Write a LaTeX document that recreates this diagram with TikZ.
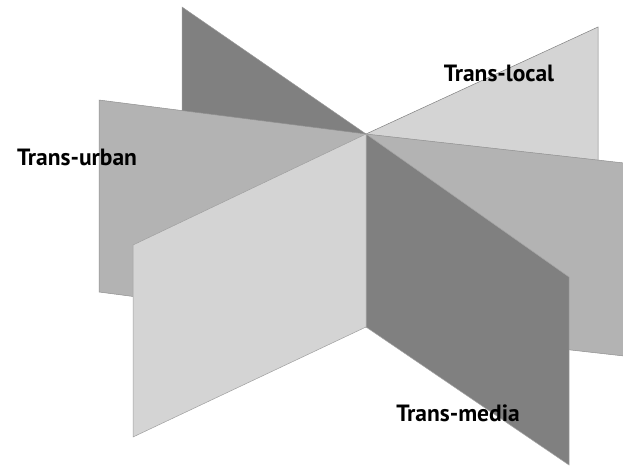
\documentclass[tikz,border=0pt]{standalone}
\usepackage{fontspec}
\setmainfont{PT Sans}
\definecolor{pdark}{HTML}{808080}
\definecolor{pmid}{HTML}{B3B3B3}
\definecolor{plight}{HTML}{D4D4D4}
\begin{document}
\begin{tikzpicture}[x=1pt,y=-1pt,
  panel/.style={line width=0.5pt, line join=miter},
  lbl/.style={font=\fontsize{23.5}{26}\selectfont\bfseries, inner sep=0pt, text=black}]
\useasboundingbox (0,0) rectangle (623,466);
\clip (0,0) rectangle (623,466);
% axis
\coordinate (ct) at (366,134);
\coordinate (cb) at (366,327);
% back-left dark
\filldraw[panel, fill=pdark, draw=pdark!80!white] (ct) -- (182,7) -- (182,199) -- (cb) -- cycle;
% back-right light (Trans-local)
\filldraw[panel, fill=plight, draw=gray] (ct) -- (598,27) -- (598,219) -- (cb) -- cycle;
% left mid (Trans-urban)
\filldraw[panel, fill=pmid, draw=pmid!80!black] (ct) -- (99,100) -- (99,292) -- (cb) -- cycle;
% right mid
\filldraw[panel, fill=pmid, draw=pmid!80!black] (ct) -- (633,164) -- (633,357) -- (cb) -- cycle;
% front-right dark (Trans-media)
\filldraw[panel, fill=pdark, draw=pdark!70!white] (ct) -- (569,277) -- (569,465) -- (cb) -- cycle;
% front-left light
\filldraw[panel, fill=plight, draw=plight!75!black] (ct) -- (133,245) -- (133,437) -- (cb) -- cycle;
% labels
\node[lbl] (tlocal) at (499,73) {Trans-local};
\node[lbl] (turban) at (77,157) {Trans-urban};
\node[lbl] (tmedia) at (458,413) {Trans-media};
\end{tikzpicture}
\end{document}
